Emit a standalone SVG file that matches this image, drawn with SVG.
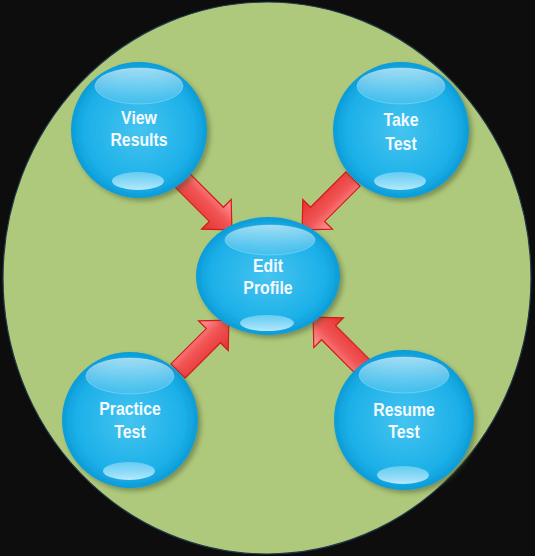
<svg xmlns="http://www.w3.org/2000/svg" width="535" height="556" viewBox="0 0 535 556">
<defs>
<radialGradient id="bub" cx="0.5" cy="0.5" r="0.5">
<stop offset="0" stop-color="#45c4f0"/>
<stop offset="0.8" stop-color="#1cb0e8"/>
<stop offset="1" stop-color="#0c9cd8"/>
</radialGradient>
<linearGradient id="hiTop" x1="0" y1="0" x2="0" y2="1">
<stop offset="0" stop-color="#ffffff" stop-opacity="0.6"/>
<stop offset="1" stop-color="#ffffff" stop-opacity="0.08"/>
</linearGradient>
<linearGradient id="hiBot" x1="0" y1="0" x2="0" y2="1">
<stop offset="0" stop-color="#a8e6fb" stop-opacity="0.5"/>
<stop offset="1" stop-color="#c8f0ff" stop-opacity="0.9"/>
</linearGradient>
<linearGradient id="arr" x1="0" y1="0" x2="0" y2="1">
<stop offset="0" stop-color="#ffa0a0"/>
<stop offset="0.45" stop-color="#f25555"/>
<stop offset="1" stop-color="#e23030"/>
</linearGradient>
<filter id="sh" x="-20%" y="-20%" width="150%" height="150%">
<feDropShadow dx="3" dy="3" stdDeviation="2.5" flood-color="#3a4a20" flood-opacity="0.45"/>
</filter>
<path id="arrowShape" d="M0,-10 L50,-10 L50,-21 L72,0 L50,21 L50,10 L0,10 Z"/>
</defs>
<style>
.bubble{fill:url(#bub);filter:url(#sh)}
.top{fill:url(#hiTop);stroke:#ffffff;stroke-opacity:0.25;stroke-width:1}
.bot{fill:url(#hiBot)}
.lbl{font-family:"Liberation Sans",Arial,sans-serif;font-weight:bold;font-size:18px;fill:#f4faff;text-anchor:middle}
.arrow{fill:url(#arr);stroke:#d41a1a;stroke-width:1.2;stroke-linejoin:miter}
</style>
<rect x="0" y="0" width="535" height="556" fill="#0d0d0d"/>
<ellipse cx="267" cy="278" rx="264" ry="276" fill="#afc97c" stroke="#1f3a4a" stroke-width="1.2"/>
<g id="connectors">
<use href="#arrowShape" class="arrow" transform="translate(181,179) rotate(45)"/>
<use href="#arrowShape" class="arrow" transform="translate(353,179) rotate(135)"/>
<use href="#arrowShape" class="arrow" transform="translate(178,371) rotate(-45)"/>
<use href="#arrowShape" class="arrow" transform="translate(364,368) rotate(-135)"/>
</g>
<g id="view-results">
<circle class="bubble" cx="139" cy="130" r="68"/>
<ellipse class="top" cx="139" cy="86" rx="44" ry="18"/>
<ellipse class="bot" cx="138" cy="181" rx="26" ry="9"/>
<text class="lbl" transform="translate(139,124) scale(0.88,1)">View</text>
<text class="lbl" transform="translate(139,146) scale(0.88,1)">Results</text>
</g>
<g id="take-test">
<circle class="bubble" cx="401" cy="130" r="68"/>
<ellipse class="top" cx="401" cy="86" rx="44" ry="18"/>
<ellipse class="bot" cx="400" cy="181" rx="26" ry="9"/>
<text class="lbl" transform="translate(401,126) scale(0.88,1)">Take</text>
<text class="lbl" transform="translate(401,150) scale(0.88,1)">Test</text>
</g>
<g id="edit-profile">
<ellipse class="bubble" cx="268" cy="276" rx="72" ry="59"/>
<ellipse class="top" cx="270" cy="240" rx="45" ry="15"/>
<ellipse class="bot" cx="267" cy="323" rx="27" ry="8"/>
<text class="lbl" transform="translate(268,272) scale(0.88,1)">Edit</text>
<text class="lbl" transform="translate(268,294) scale(0.88,1)">Profile</text>
</g>
<g id="practice-test">
<circle class="bubble" cx="130" cy="420" r="68"/>
<ellipse class="top" cx="130" cy="376" rx="44" ry="18"/>
<ellipse class="bot" cx="129" cy="471" rx="26" ry="9"/>
<text class="lbl" transform="translate(130,415) scale(0.88,1)">Practice</text>
<text class="lbl" transform="translate(130,438) scale(0.88,1)">Test</text>
</g>
<g id="resume-test">
<circle class="bubble" cx="404" cy="420" r="70"/>
<ellipse class="top" cx="404" cy="375" rx="45" ry="18"/>
<ellipse class="bot" cx="403" cy="475" rx="26" ry="9"/>
<text class="lbl" transform="translate(404,416) scale(0.88,1)">Resume</text>
<text class="lbl" transform="translate(404,438) scale(0.88,1)">Test</text>
</g>
</svg>
